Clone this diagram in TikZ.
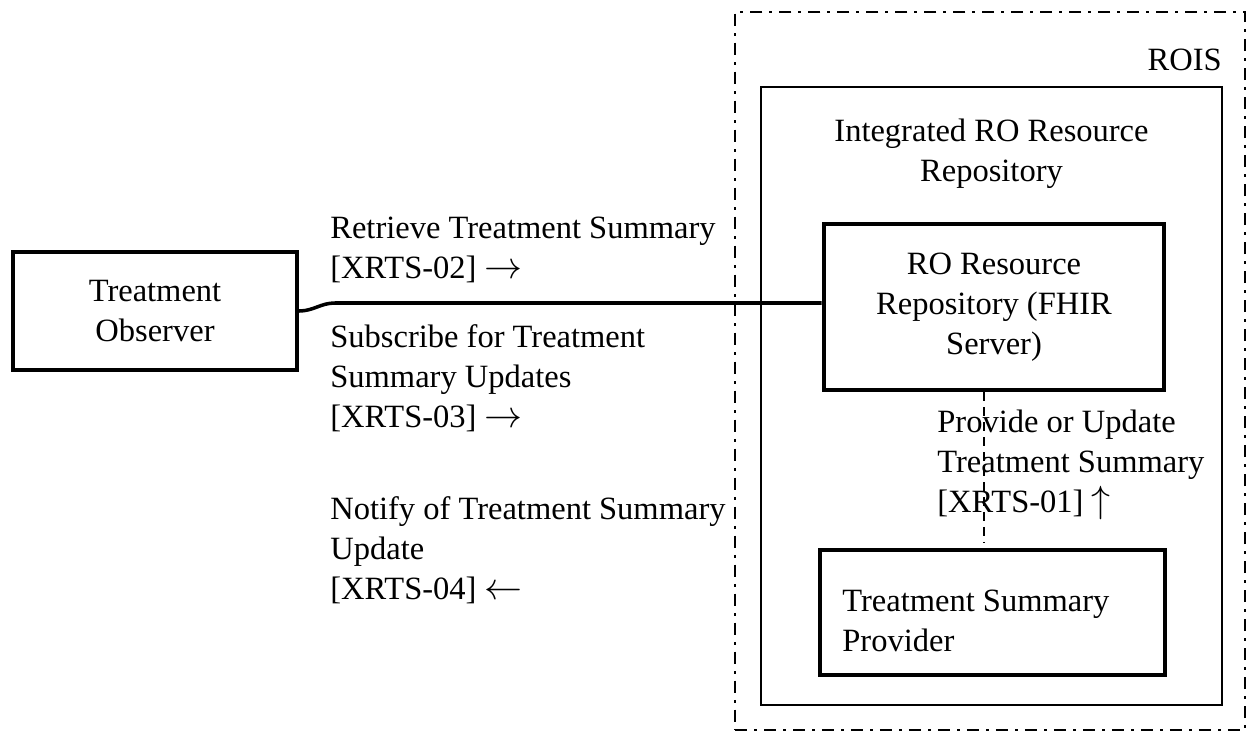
\documentclass[tikz,border=0pt]{standalone}
\usepackage{fontspec}
\setmainfont{Liberation Serif}
\usetikzlibrary{calc}
\newcommand{\bigarrow}[1]{\scalebox{1.25}{$#1$}}

\begin{document}
\begin{tikzpicture}[
    font=\fontsize{18.5}{22.8}\selectfont,
    box/.style={rectangle, draw=black, line width=2.4pt, align=center, inner sep=0pt},
    frame/.style={rectangle, draw=black, line width=1.1pt, inner sep=0pt},
    zone/.style={rectangle, draw=black, line width=1.3pt, inner sep=0pt,
                 dash pattern=on 7pt off 4pt on 1.5pt off 4pt},
    label/.style={anchor=west, align=left, inner sep=0pt},
    link/.style={line width=2pt},
    dashlink/.style={line width=1.1pt, dash pattern=on 5pt off 3.5pt}
]
\useasboundingbox (0,0) rectangle (25,14.68);

% ROIS zone
\node[zone, minimum width=10.2cm, minimum height=14.36cm] (rois) at (19.80,7.26) {};
\node[anchor=east, inner sep=0pt] (roislabel) at (24.44,13.48) {ROIS};

% Integrated repository
\node[frame, minimum width=9.22cm, minimum height=12.36cm] (irr) at (19.83,6.76) {};
\node[align=center, inner sep=0pt] (irrlabel) at (19.83,11.61) {Integrated RO Resource\\Repository};

% Actors
\node[box, minimum width=5.68cm, minimum height=2.36cm] (observer) at (3.10,8.46) {Treatment\\Observer};
\node[box, line width=2.8pt, minimum width=6.8cm, minimum height=3.32cm] (fhir) at (19.88,8.54) {RO Resource\\Repository (FHIR\\Server)};
\node[box, minimum width=6.9cm, minimum height=2.5cm] (provider) at (19.85,2.43) {};
\node[label] (providertext) at (16.84,2.26) {Treatment Summary\\Provider};

% Transactions
\node[label] (xrts02) at (6.60,9.68) {Retrieve Treatment Summary\\{}[XRTS-02] \bigarrow{\rightarrow}};
\node[label] (xrts03) at (6.60,7.12) {Subscribe for Treatment\\Summary Updates\\{}[XRTS-03] \bigarrow{\rightarrow}};
\node[label] (xrts04) at (6.60,3.68) {Notify of Treatment Summary\\Update\\{}[XRTS-04] \bigarrow{\leftarrow}};
\node[label] (xrts01) at (18.74,5.38) {Provide or Update\\Treatment Summary\\{}[XRTS-01] \bigarrow{\uparrow}};

% Connectors
\coordinate (bend) at (6.70,8.62);
\coordinate (dashend) at (19.68,3.84);
\draw[link] (observer.east) to[out=0, in=180] (bend) -- (bend -| fhir.west);
\draw[dashlink] (fhir.south -| dashend) -- (dashend);

\end{tikzpicture}
\end{document}
